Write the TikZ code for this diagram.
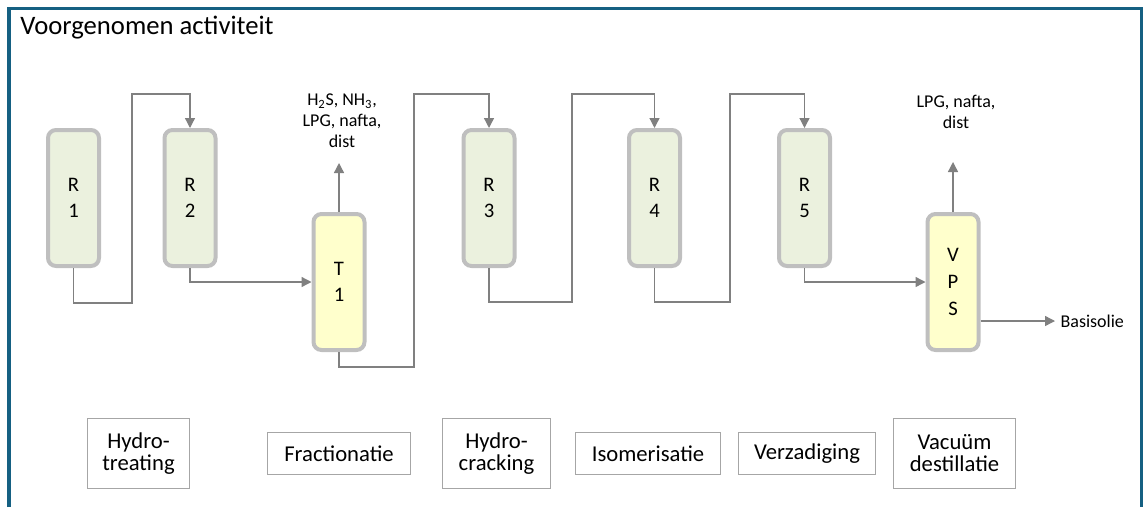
\documentclass[tikz,border=0pt]{standalone}
\usepackage{fontspec}
\setmainfont{Carlito}
\usetikzlibrary{arrows.meta}

\definecolor{framecol}{HTML}{156082}
\definecolor{reactfill}{HTML}{EBF1DE}
\definecolor{colfill}{HTML}{FFFFCC}
\definecolor{vesselline}{HTML}{BFBFBF}
\definecolor{flowcol}{HTML}{808080}
\definecolor{stageline}{HTML}{A6A6A6}

\tikzset{
  reactor/.style={draw=vesselline, line width=3pt, rounded corners=6pt,
    fill=reactfill, minimum width=38.25pt, minimum height=102pt,
    inner sep=0pt, align=center, font=\fontsize{15.5}{20}\selectfont},
  column/.style={reactor, fill=colfill},
  stage/.style={draw=stageline, line width=0.9pt, inner sep=0pt,
    align=center, font=\fontsize{17}{16.5}\selectfont},
  product/.style={inner sep=0pt, align=center,
    font=\fontsize{13.5}{15.75}\selectfont},
  flow/.style={draw=flowcol, line width=1pt,
    -{Triangle[length=7.5pt,width=7.5pt]}},
}

\begin{document}
\begin{tikzpicture}[x=0.75pt,y=-0.75pt]
      \useasboundingbox (0,0) rectangle (1144,507);
      \draw[framecol, line width=2.8pt] (9,507) -- (9,8.5) -- (1141.5,8.5) -- (1141.5,507);
      \node[anchor=base west, inner sep=0pt, font=\fontsize{20}{24}\selectfont]
        (title) at (20,34) {Voorgenomen activiteit};
      \draw
        (73.5,198) node[reactor] (r1){R\\1}
        (190,198) node[reactor] (r2){R\\2}
        (339,282) node[column] (t1){T\\1}
        (489,198) node[reactor] (r3){R\\3}
        (654.5,198) node[reactor] (r4){R\\4}
        (804.5,198) node[reactor] (r5){R\\5}
        (953,282) node[column] (vps){V\\P\\S};
      \coordinate (t1top) at (339,163);
      \coordinate (vpstop) at (953,162);
      \node[product] (t1out) at (342,121) {H\textsubscript{2}S, NH\textsubscript{3},\\LPG, nafta,\\dist};
      \node[product] (vpsout) at (956,112) {LPG, nafta,\\dist};
      \node[product, anchor=west, inner sep=4pt] (basis) at (1055,321) {Basisolie};
      \draw
        (138.5,453.5) node[stage, minimum width=76.5pt, minimum height=52.5pt] (ht){Hydro-\\treating}
        (339,453.5) node[stage, minimum width=107.25pt, minimum height=31.5pt] (fr){Fractionatie}
        (496.5,453.5) node[stage, minimum width=81pt, minimum height=52.5pt] (hc){Hydro-\\cracking}
        (648,453.5) node[stage, minimum width=108.75pt, minimum height=31.5pt] (is){Isomerisatie}
        (807,453.5) node[stage, minimum width=102.75pt, minimum height=31.5pt] (vz){Verzadiging}
        (954.5,453.5) node[stage, minimum width=91.5pt, minimum height=52.5pt] (vd){Vacuüm\\destillatie};
      \begin{scope}[flow]
        \draw (r1.south) |- (132,303) |- (r2.north |- 0,94) -- (r2.north);
        \draw (r2.south) |- (t1.west);
        \draw (t1.north) -- (t1top);
        \draw (t1.south) |- (414,367) |- (r3.north |- 0,94) -- (r3.north);
        \draw (r3.south) |- (572,302) |- (r4.north |- 0,94) -- (r4.north);
        \draw (r4.south) |- (730,302) |- (r5.north |- 0,94) -- (r5.north);
        \draw (r5.south) |- (vps.west);
        \draw (vps.north) -- (vpstop);
        \draw (vps.east |- basis.west) -- (basis.west);
      \end{scope}
    \end{tikzpicture}
\end{document}
